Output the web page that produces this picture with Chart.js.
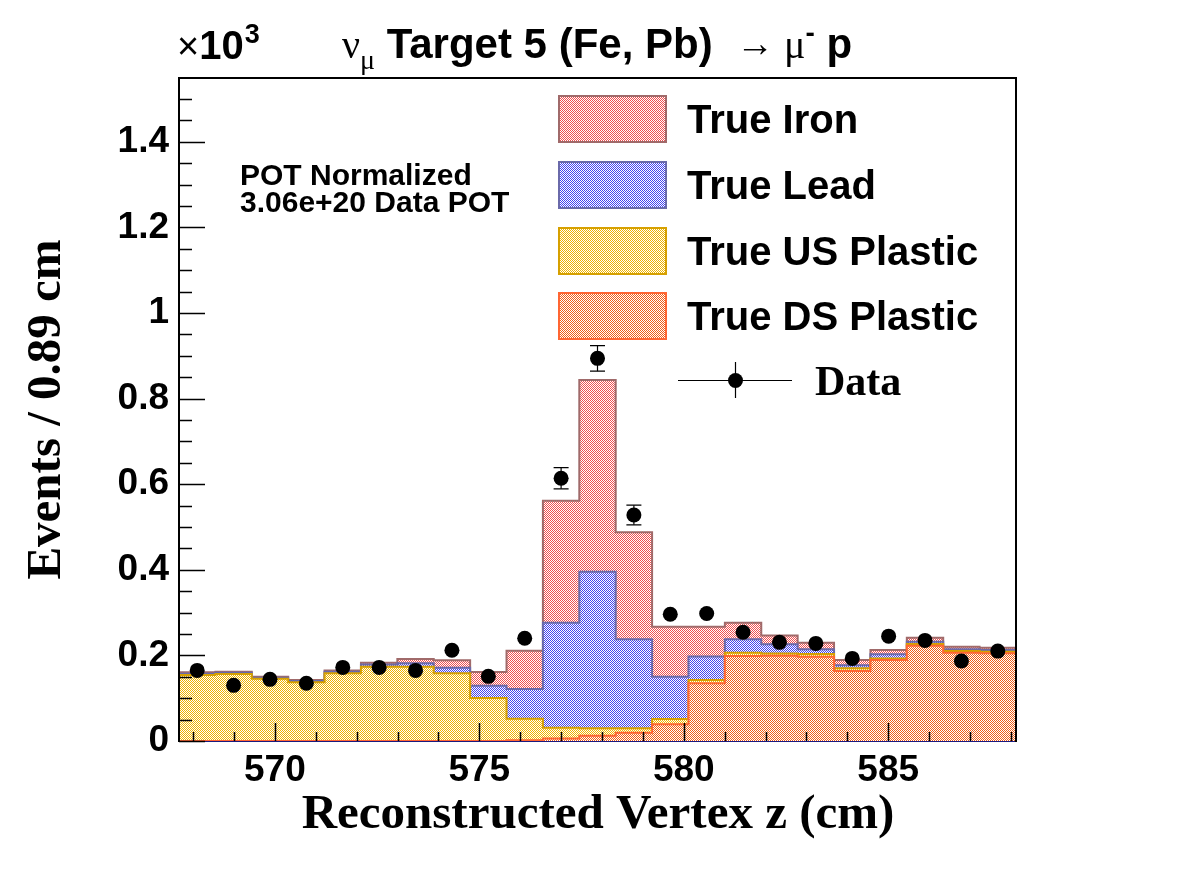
<!DOCTYPE html>
<html><head><meta charset="utf-8">
<script src="https://cdn.jsdelivr.net/npm/chart.js@4.4.1/dist/chart.umd.min.js"></script>
<style>html,body{margin:0;padding:0;background:#fff;}#wrap{width:1196px;height:872px;}</style>
</head><body><div id="wrap"><canvas id="c" width="1196" height="872"></canvas></div>
<script>
// ---- data (values in units of 10^3 events) ----
const binLowEdges = [567.655,568.545,569.435,570.325,571.215,572.105,572.995,573.885,574.775,575.665,
  576.555,577.445,578.335,579.225,580.115,581.005,581.895,582.785,583.675,584.565,585.455,586.345,587.235];
const binUpEdge = 588.125;
const trueDSPlastic = [0,0,0,0,0,0,0,0,0,0.002,0.006,0.012,0.0195,0.039,0.135,0.1986,0.199,0.197,0.1636,0.189,0.2227,0.2063,0.2048];
const trueUSPlastic = [0.154,0.1565,0.1456,0.137,0.158,0.1736,0.1736,0.158,0.1005,0.050,0.025,0.0176,0.010,0.0124,0.0077,0.0077,0.0055,0.0063,0.0062,0.004,0.004,0.004,0.004];
const trueLead = [0.003,0.003,0.002,0.003,0.004,0.0054,0.008,0.013,0.0285,0.0695,0.2455,0.366,0.208,0.0986,0.0545,0.0313,0.0218,0.0109,0.007,0.0095,0.0054,0.0039,0.0039];
const trueIron = [0.0035,0.0025,0.0024,0.0025,0.003,0.004,0.010,0.0175,0.032,0.0895,0.285,0.448,0.25,0.117,0.07,0.0389,0.0204,0.0155,0.0125,0.0101,0.0094,0.0062,0.0054];
const dataValues = [0.165,0.130,0.144,0.135,0.172,0.172,0.165,0.212,0.151,0.240,0.614,0.894,0.528,0.296,0.298,0.254,0.2305,0.228,0.193,0.245,0.235,0.187,0.210];
const dataErrors = [0.0128,0.0114,0.012,0.0116,0.0131,0.0131,0.0128,0.0146,0.0123,0.0155,0.0248,0.0299,0.023,0.0172,0.0173,0.0159,0.0152,0.0151,0.0139,0.0157,0.0153,0.0137,0.0145];
const xTickValues = [570,575,580,585];
const yTickValues = [0,0.2,0.4,0.6,0.8,1,1.2,1.4];
const seriesNames = ['True DS Plastic','True US Plastic','True Lead','True Iron'];
const dataName = 'Data';

const canvas = document.getElementById('c');
const ctx = canvas.getContext('2d');
function checker(color){
  const c = document.createElement('canvas'); c.width = 2; c.height = 2;
  const g = c.getContext('2d');
  g.fillStyle = '#ffffff'; g.fillRect(0,0,2,2);
  g.fillStyle = color; g.fillRect(0,0,1,1); g.fillRect(1,1,1,1);
  return ctx.createPattern(c,'repeat');
}
function steps(vals){
  const pts = vals.map((v,i)=>({x: binLowEdges[i], y: v}));
  pts.push({x: binUpEdge, y: vals[vals.length-1]});
  return pts;
}
const centers = binLowEdges.map((e,i)=> (e + (i+1 < binLowEdges.length ? binLowEdges[i+1] : binUpEdge))/2);

const fills = [checker('#f06018'), checker('#f0b400'), checker('#4444ee'), checker('#f05050')];
const lines = ['#ff6633','#d6a000','#6a6aaa','#a06a6a'];
const series = [trueDSPlastic, trueUSPlastic, trueLead, trueIron];

const datasets = series.map((s,i)=>({
  type:'line', label: seriesNames[i], data: steps(s), stepped:'before', stack:'mc',
  borderColor: lines[i], borderWidth: 2, backgroundColor: fills[i],
  fill: i===0 ? 'origin' : '-1', pointRadius: 0, tension: 0, order: 1
}));
datasets.push({
  type:'line', label: dataName, data: centers.map((x,i)=>({x, y: dataValues[i]})), stack:'data',
  showLine:false, pointRadius:7.5, pointBackgroundColor:'#000', pointBorderWidth:0, order:-1, clip:false
});

const FONT_SANS = '"Liberation Sans", Arial, sans-serif';
const FONT_SERIF = '"Liberation Serif", "Times New Roman", serif';

const decor = {
  id:'decor',
  beforeDatasetsDraw(chart){
    const a = chart.chartArea, c = chart.ctx;
    c.save(); c.strokeStyle='#1a1a80'; c.lineWidth=2;
    c.beginPath(); c.moveTo(a.left, a.bottom); c.lineTo(a.right, a.bottom); c.stroke();
    c.restore();
  },
  afterDatasetsDraw(chart){
    const a = chart.chartArea, c = chart.ctx, xs = chart.scales.x, ys = chart.scales.y;
    c.save();
    // error bars
    c.strokeStyle='#000'; c.lineWidth=1.2;
    const r = 7.5;
    dataValues.forEach((v,i)=>{
      const px = xs.getPixelForValue(centers[i]);
      const yt = ys.getPixelForValue(v + dataErrors[i]);
      const yb = ys.getPixelForValue(v - dataErrors[i]);
      const yc = ys.getPixelForValue(v);
      if (yc - yt > r + 0.5) {
        c.beginPath(); c.moveTo(px, yt); c.lineTo(px, yb); c.stroke();
        c.beginPath(); c.moveTo(px-7.5, yt); c.lineTo(px+7.5, yt);
        c.moveTo(px-7.5, yb); c.lineTo(px+7.5, yb); c.stroke();
      }
    });
    // frame
    c.strokeStyle='#000'; c.lineWidth=2;
    c.beginPath(); c.moveTo(a.left, a.bottom+1); c.lineTo(a.left, a.top); c.lineTo(a.right, a.top); c.lineTo(a.right, a.bottom+1); c.stroke();
    // ticks
    c.lineWidth=1.5;
    c.beginPath();
    for (let k=0; k<=31; k++){
      const v = k*0.05; if (v > ys.max) break;
      const py = Math.round(ys.getPixelForValue(v))+0.5;
      const len = (k%4===0) ? 26 : 13;
      c.moveTo(a.left, py); c.lineTo(a.left+len, py);
    }
    for (let v=568; v<=588; v++){
      const px = Math.round(xs.getPixelForValue(v))+0.5;
      const len = (v%5===0) ? 18 : 9;
      c.moveTo(px, a.bottom); c.lineTo(px, a.bottom-len);
    }
    c.stroke();
    c.restore();
  },
  afterDraw(chart){
    const c = chart.ctx;
    c.save();
    c.fillStyle='#000';
    // axis titles
    c.font = 'bold 49px ' + FONT_SERIF; c.textAlign='center'; c.textBaseline='alphabetic';
    c.save(); c.translate(60, 409.5); c.rotate(-Math.PI/2); c.fillText('Events / 0.89 cm', 0, 0); c.restore();
    c.font = 'bold 49px ' + FONT_SERIF;
    c.fillText('Reconstructed Vertex z (cm)', 598, 828);
    // x10^3
    c.textAlign='left';
    c.font = '38px ' + FONT_SANS; c.fillText('\u00d7', 177, 59);
    let w = c.measureText('\u00d7').width;
    c.font = 'bold 40px ' + FONT_SANS; c.fillText('10', 177+w, 59);
    let w2 = c.measureText('10').width;
    c.font = 'bold 27px ' + FONT_SANS; c.fillText('3', 177+w+w2+1, 43);
    // title
    const parts = [
      {t:'\u03bd', f:'40px '+FONT_SERIF, dy:0},
      {t:'\u03bc', f:'28px '+FONT_SERIF, dy:11},
      {t:' Target 5 (Fe, Pb)  ', f:'bold 42px '+FONT_SANS, dy:0},
      {t:'\u2192', f:'38px '+FONT_SERIF, dy:-2},
      {t:' \u03bc', f:'40px '+FONT_SERIF, dy:0},
      {t:'-', f:'bold 28px '+FONT_SANS, dy:-16},
      {t:' p', f:'bold 42px '+FONT_SANS, dy:0}
    ];
    let total = 0;
    parts.forEach(p=>{ c.font=p.f; p.w=c.measureText(p.t).width; total+=p.w; });
    let x0 = 597 - total/2;
    parts.forEach(p=>{ c.font=p.f; c.fillText(p.t, x0, 58+p.dy); x0+=p.w; });
    // POT text
    c.font = 'bold 30px ' + FONT_SANS;
    c.fillText('POT Normalized', 240, 185);
    c.fillText('3.06e+20 Data POT', 240, 212);
    // legend
    const ds = chart.data.datasets;
    const order = [3,2,1,0];
    const rowBase = [133, 199, 265, 330];
    order.forEach((di,k)=>{
      const d = ds[di];
      const top = rowBase[k] - 37;
      c.fillStyle = d.backgroundColor; c.fillRect(559, top, 107, 46);
      c.strokeStyle = d.borderColor; c.lineWidth = 2; c.strokeRect(559, top, 107, 46);
      c.fillStyle='#000'; c.font='bold 40px '+FONT_SANS; c.fillText(d.label, 687, rowBase[k]);
    });
    // data legend entry
    c.strokeStyle='#000'; c.lineWidth=1.2;
    c.beginPath(); c.moveTo(678, 380.5); c.lineTo(792, 380.5); c.moveTo(735.5, 362); c.lineTo(735.5, 398); c.stroke();
    c.beginPath(); c.arc(735.5, 380.5, 7.5, 0, Math.PI*2); c.fill();
    c.font='bold 42px '+FONT_SERIF; c.fillText(ds[4].label, 815, 395);
    c.restore();
  }
};

new Chart(ctx, {
  type:'line',
  data:{ datasets },
  options:{
    responsive:false, animation:false, devicePixelRatio:1,
    layout:{ padding:{ left:0, right:180, top:78, bottom:0 } },
    plugins:{ legend:{display:false}, tooltip:{enabled:false}, title:{display:false} },
    scales:{
      x:{ type:'linear', min:567.655, max:588.125,
        grid:{display:false}, border:{display:false},
        afterBuildTicks:(s)=>{ s.ticks = xTickValues.map(v=>({value:v})); },
        afterFit:(s)=>{ s.height = 131; },
        ticks:{ color:'#000', font:{family:FONT_SANS, weight:'bold', size:37}, padding:0, maxRotation:0, autoSkip:false,
          callback:(v)=>String(v) } },
      y:{ type:'linear', stacked:true, min:0, max:1.549,
        grid:{display:false}, border:{display:false},
        afterBuildTicks:(s)=>{ s.ticks = yTickValues.map(v=>({value:v})); },
        afterFit:(s)=>{ s.width = 179; },
        ticks:{ color:'#000', font:{family:FONT_SANS, weight:'bold', size:37}, padding:2, autoSkip:false,
          callback:(v)=>String(v) } }
    }
  },
  plugins:[decor]
});
</script></body></html>
